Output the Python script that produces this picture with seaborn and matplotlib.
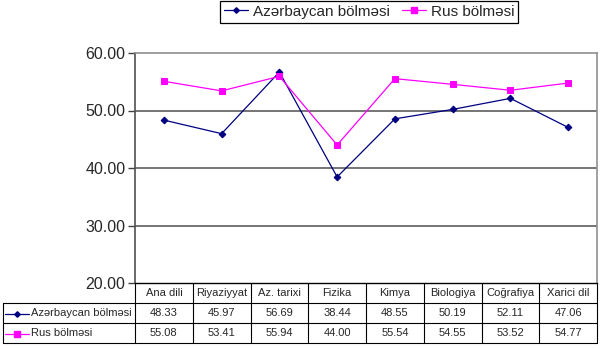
import matplotlib
matplotlib.use("Agg")
import matplotlib.pyplot as plt
import seaborn as sns
import pandas as pd
from matplotlib.lines import Line2D

categories = ["Ana dili", "Riyaziyyat", "Az. tarixi", "Fizika", "Kimya",
              "Biologiya", "Coğrafiya", "Xarici dil"]
azerbaycan = [48.33, 45.97, 56.69, 38.44, 48.55, 50.19, 52.11, 47.06]
rus = [55.08, 53.41, 55.94, 44.00, 55.54, 54.55, 53.52, 54.77]
series_names = ["Azərbaycan bölməsi", "Rus bölməsi"]
yticks = [20, 30, 40, 50, 60]

colors = ["#000080", "#FF00FF"]
markers = ["D", "s"]
msizes = [3.4, 4.4]

sns.set_style("white")
plt.rcParams["font.family"] = ["Liberation Sans", "DejaVu Sans"]

W, H = 600, 349
fig = plt.figure(figsize=(6, 3.49), dpi=100)

L, R, T, B = 135, 597, 53, 283
ax = fig.add_axes([L / W, 1 - B / H, (R - L) / W, (B - T) / H])

df = pd.DataFrame({
    "pos": list(range(len(categories))) * 2,
    "value": azerbaycan + rus,
    "series": [series_names[0]] * len(categories) + [series_names[1]] * len(categories),
})

for i, name in enumerate(series_names):
    sns.lineplot(data=df[df["series"] == name], x="pos", y="value", ax=ax,
                 color=colors[i], marker=markers[i], markersize=msizes[i],
                 markeredgecolor=colors[i], linewidth=0.9, label=name,
                 zorder=3)

ax.set_xlim(-0.5, len(categories) - 0.5)
ax.set_ylim(20, 60)
ax.set_yticks(yticks)
ax.set_yticklabels([f"{v:.2f}" for v in yticks], fontsize=11.5)
ax.set_xticks([])
ax.set_xlabel("")
ax.set_ylabel("")
for v in yticks[1:-1]:
    ax.axhline(v, color="#505050", lw=1.1, zorder=1)
ax.tick_params(axis="y", length=5, width=1, color="#404040", pad=2, left=True)
for s in ["top", "right"]:
    ax.spines[s].set_color("#909090")
    ax.spines[s].set_linewidth(1.2)
ax.spines["left"].set_color("#505050")
ax.spines["left"].set_linewidth(1.2)
ax.spines["bottom"].set_color("black")
ax.spines["bottom"].set_linewidth(1)

handles = [Line2D([0], [0], color=colors[i], marker=markers[i], markersize=msizes[i] - 0.6,
                  lw=0.9) for i in range(2)]
leg = ax.legend(handles, series_names, loc="upper center", ncol=2,
                bbox_to_anchor=(369 / W, 1 - 1 / H), bbox_transform=fig.transFigure,
                fancybox=False, framealpha=1, edgecolor="black", fontsize=11,
                handlelength=1.6, handletextpad=0.3, columnspacing=0.8,
                borderpad=0.25, borderaxespad=0)
leg.get_frame().set_linewidth(0.9)

# data table
tab = fig.add_axes([0, 0, 1, 1], zorder=5)
tab.set_xlim(0, W)
tab.set_ylim(H, 0)
tab.axis("off")
tab.patch.set_alpha(0)

n = len(categories)
colw = (R - L) / n
rows = [283, 303, 323, 343]
lc = "black"
lw = 0.8
for j in range(n + 1):
    x = L + j * colw
    tab.plot([x, x], [rows[0], rows[3]], color=lc, lw=lw)
tab.plot([3, 3], [rows[1], rows[3]], color=lc, lw=lw)
for yv in rows[1:]:
    tab.plot([3, R], [yv, yv], color=lc, lw=lw)

fs = 8
for j, c in enumerate(categories):
    tab.text(L + (j + 0.5) * colw, (rows[0] + rows[1]) / 2 + 0.5, c,
             ha="center", va="center", fontsize=fs)

data_rows = [azerbaycan, rus]
for i in range(2):
    yc = (rows[i + 1] + rows[i + 2]) / 2 + 0.5
    tab.plot([5, 29], [yc, yc], color=colors[i], lw=0.9)
    tab.plot([17], [yc], color=colors[i], marker=markers[i], markersize=msizes[i] - 0.6)
    tab.text(31, yc, series_names[i], ha="left", va="center", fontsize=fs)
    for j, v in enumerate(data_rows[i]):
        tab.text(L + (j + 0.5) * colw, yc, f"{v:.2f}", ha="center", va="center",
                 fontsize=fs)

fig.savefig("out.png", dpi=100)
